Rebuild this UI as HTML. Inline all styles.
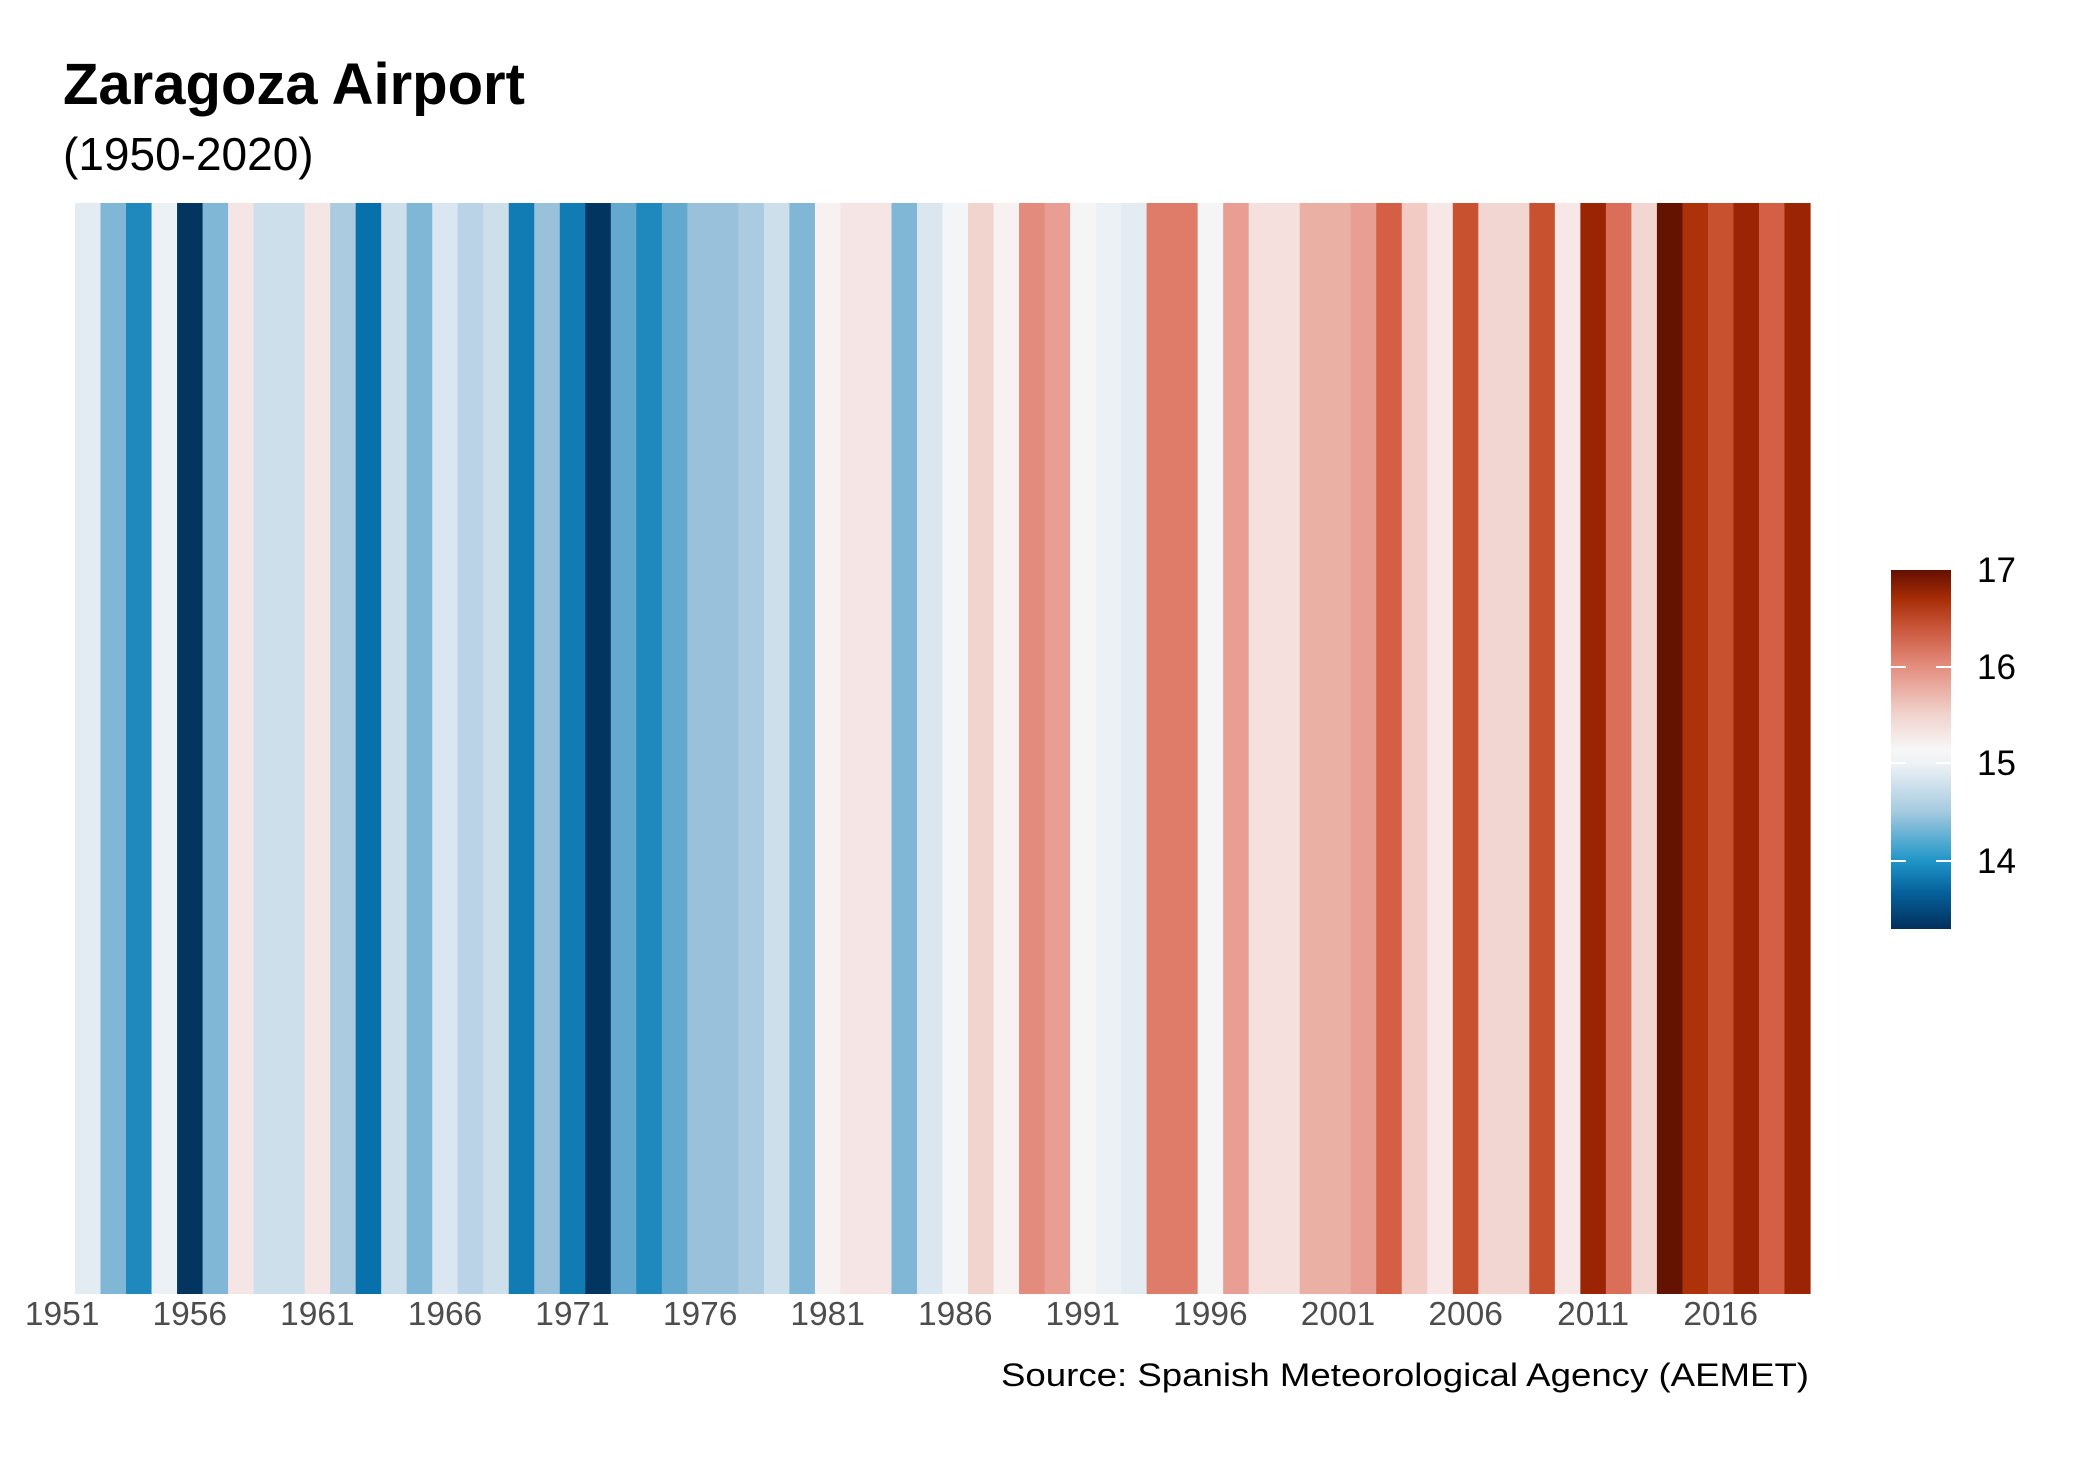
<!DOCTYPE html>
<html><head><meta charset="utf-8"><style>
html,body{margin:0;padding:0;background:#fff;}
svg{display:block;}
text{font-family:"Liberation Sans",Arial,sans-serif;}
</style></head><body>
<svg width="2100" height="1469" viewBox="0 0 2100 1469" xmlns="http://www.w3.org/2000/svg">
<defs>
<linearGradient id="lg" x1="0" y1="1" x2="0" y2="0">
<stop offset="0" stop-color="#022f5c"/>
<stop offset="0.10" stop-color="#05609a"/>
<stop offset="0.19" stop-color="#1f96c8"/>
<stop offset="0.33" stop-color="#a7cbe0"/>
<stop offset="0.46" stop-color="#eef2f6"/>
<stop offset="0.50" stop-color="#f7f7f7"/>
<stop offset="0.60" stop-color="#f0d2cc"/>
<stop offset="0.73" stop-color="#e48e7f"/>
<stop offset="0.84" stop-color="#c9553a"/>
<stop offset="0.92" stop-color="#a62d06"/>
<stop offset="1" stop-color="#640f00"/>
</linearGradient>
</defs>
<rect width="2100" height="1469" fill="#fff"/>
<text x="63" y="104" font-size="58" font-weight="bold" fill="#000">Zaragoza Airport</text>
<text x="63" y="170" font-size="46" fill="#000">(1950-2020)</text>
<g id="stripes"></g>
<g id="ticks" font-size="33.5" fill="#4d4d4d" text-anchor="middle"></g>
<text x="1809" y="1386" font-size="32" fill="#000" text-anchor="end" textLength="808" lengthAdjust="spacingAndGlyphs">Source: Spanish Meteorological Agency (AEMET)</text>
<rect x="1891" y="570" width="60" height="359" fill="url(#lg)"/>
<g stroke="#fff" stroke-width="2">
<line x1="1891" y1="667" x2="1906" y2="667"/><line x1="1936" y1="667" x2="1951" y2="667"/>
<line x1="1891" y1="763" x2="1906" y2="763"/><line x1="1936" y1="763" x2="1951" y2="763"/>
<line x1="1891" y1="861" x2="1906" y2="861"/><line x1="1936" y1="861" x2="1951" y2="861"/>
</g>
<g font-size="35" fill="#000">
<text x="1977" y="582">17</text>
<text x="1977" y="679">16</text>
<text x="1977" y="775">15</text>
<text x="1977" y="873">14</text>
</g>
</svg>
<script>
var c=["#e3ebf3","#80b6d6","#1f88bc","#ecf1f5","#023660","#80b6d6","#f5e6e5","#ccdfeb","#ccdfeb","#f5e6e5",
"#abcbe0","#0871ab","#ccdfeb","#80b6d6","#dae6f0","#bad3e6","#ccdfeb","#117cb3","#9ac1dc","#117cb3",
"#023660","#63a9cf","#1f88bc","#63a9cf","#9ac1dc","#9ac1dc","#abcbe0","#ccdfeb","#80b6d6","#f7f2f1",
"#f5e6e5","#f5e6e5","#80b6d6","#dae6f0","#f4f5f7","#f2d4cf","#f7f2f1","#e38b7c","#e89e92","#f5f5f5",
"#ecf1f5","#e3ebf3","#df7b69","#df7b69","#f5f5f5","#e89e92","#f5e0dd","#f5e0dd","#ebb0a4","#ebb0a4",
"#e89e92","#d45f45","#f2cbc4","#f7e8e7","#c85130","#f2d6d2","#f2d6d2","#c85130","#f7e8e7","#9b2404",
"#da6e58","#f2d6d2","#641300","#ad320a","#c85130","#9b2404","#d45f45","#9b2404"];
var ns="http://www.w3.org/2000/svg",g=document.getElementById("stripes"),x0=75,w=1735/68;
for(var i=0;i<c.length;i++){var r=document.createElementNS(ns,"rect");
r.setAttribute("x",(x0+i*w).toFixed(2));r.setAttribute("y",203);r.setAttribute("width",(w+0.6).toFixed(2));
r.setAttribute("height",1091);r.setAttribute("fill",c[i]);g.appendChild(r);}
var t=document.getElementById("ticks");
for(var y=1951;y<=2016;y+=5){var e=document.createElementNS(ns,"text");
e.setAttribute("x",(x0+(y-1952+0.5)*w).toFixed(1));e.setAttribute("y",1325);e.textContent=y;t.appendChild(e);}
</script>
</body></html>
